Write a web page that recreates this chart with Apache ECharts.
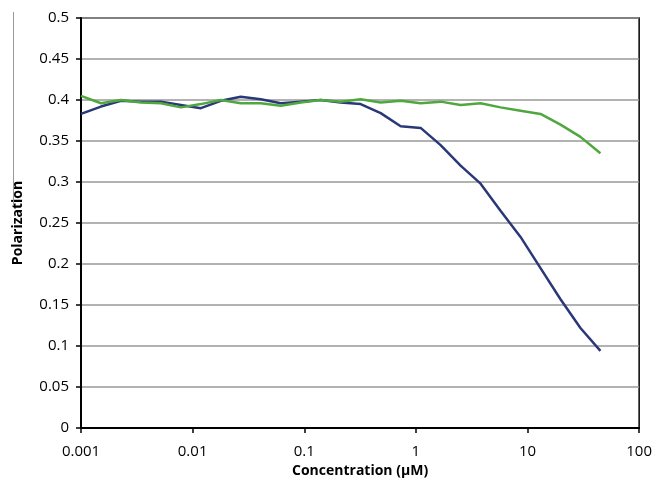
<!DOCTYPE html>
<html>
<head>
<meta charset="utf-8">
<script src="https://cdn.jsdelivr.net/npm/echarts@6/dist/echarts.min.js"></script>
<style>
html,body{margin:0;padding:0;background:#fff;}
#chart{width:655px;height:487px;}
</style>
</head>
<body>
<div id="chart"></div>
<script>
// Concentrations (µM) (log-spaced dilution series)
var concentrations = [0.001, 0.00151, 0.00228, 0.00344, 0.0052, 0.00785, 0.01185, 0.0179, 0.027, 0.0408,
  0.0616, 0.0931, 0.1405, 0.212, 0.32, 0.484, 0.731, 1.103, 1.666, 2.515,
  3.8, 5.73, 8.66, 13.08, 19.75, 29.8, 45.0];
var navyValues = [0.383, 0.392, 0.399, 0.398, 0.398, 0.394, 0.390, 0.399, 0.404, 0.401,
  0.396, 0.398, 0.400, 0.397, 0.395, 0.384, 0.368, 0.366, 0.345, 0.320,
  0.298, 0.265, 0.233, 0.195, 0.157, 0.122, 0.094];
var greenValues = [0.405, 0.396, 0.400, 0.397, 0.396, 0.391, 0.395, 0.400, 0.396, 0.396,
  0.393, 0.397, 0.400, 0.398, 0.401, 0.397, 0.399, 0.396, 0.398, 0.394,
  0.396, 0.391, 0.387, 0.383, 0.370, 0.355, 0.335];
var xTickLabels = ['0.001', '0.01', '0.1', '1', '10', '100'];
var yTickLabels = ['0', '0.05', '0.1', '0.15', '0.2', '0.25', '0.3', '0.35', '0.4', '0.45', '0.5'];
var xTitle = 'Concentration (\u00b5M)';
var yTitle = 'Polarization';

function pairs(xs, ys) { return xs.map(function (x, i) { return [x, ys[i]]; }); }

var chart = echarts.init(document.getElementById('chart'), null, {renderer: 'canvas'});
var font = 'Open Sans';
chart.setOption({
  animation: false,
  backgroundColor: '#fff',
  grid: {left: 81, right: 14, top: 18, bottom: 59, show: true, borderColor: '#000', borderWidth: 1.5, backgroundColor: 'transparent'},
  xAxis: {
    type: 'log', logBase: 10, min: 0.001, max: 100,
    name: xTitle, nameLocation: 'middle', nameGap: 30,
    nameTextStyle: {fontFamily: font, fontSize: 14, fontWeight: 'bold', color: '#000'},
    axisLine: {show: true, onZero: false, lineStyle: {color: '#000', width: 2}},
    axisTick: {show: true, inside: false, length: 5, lineStyle: {color: '#000', width: 1.5}},
    minorTick: {show: false},
    axisLabel: {fontFamily: font, fontSize: 15, color: '#000', margin: 16,
      formatter: function (v) { var i = Math.round(Math.log10(v)) + 3; return xTickLabels[i] !== undefined ? xTickLabels[i] : ''; }},
    splitLine: {show: false}
  },
  yAxis: {
    type: 'value', min: 0, max: 0.5, interval: 0.05,
    name: yTitle, nameLocation: 'middle', nameGap: 56, nameRotate: 90,
    nameTextStyle: {fontFamily: font, fontSize: 14, fontWeight: 'bold', color: '#000'},
    axisLine: {show: true, lineStyle: {color: '#000', width: 2}},
    axisTick: {show: true, inside: false, length: 5, lineStyle: {color: '#000', width: 1.5}},
    axisLabel: {fontFamily: font, fontSize: 15, color: '#000', margin: 12,
      formatter: function (v) { var i = Math.round(v / 0.05); return yTickLabels[i] !== undefined ? yTickLabels[i] : ''; }},
    splitLine: {show: true, lineStyle: {color: '#999', width: 1.5}}
  },
  series: [
    {type: 'line', name: 'navy', data: pairs(concentrations, navyValues), showSymbol: false, symbol: 'none',
      lineStyle: {color: '#2a3878', width: 2.5}, itemStyle: {color: '#2a3878'}, z: 3},
    {type: 'line', name: 'green', data: pairs(concentrations, greenValues), showSymbol: false, symbol: 'none',
      lineStyle: {color: '#4ea83e', width: 2.5}, itemStyle: {color: '#4ea83e'}, z: 4}
  ],
  graphic: [
    {type: 'line', shape: {x1: 13.5, y1: 12, x2: 13.5, y2: 205}, style: {stroke: '#999', lineWidth: 1}, silent: true}
  ]
});
</script>
</body>
</html>
